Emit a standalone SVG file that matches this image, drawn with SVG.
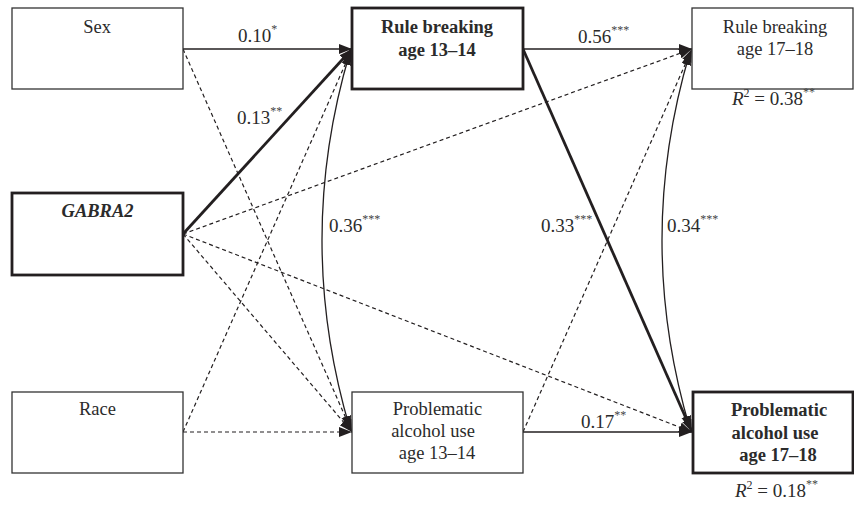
<svg xmlns="http://www.w3.org/2000/svg" width="854" height="505" viewBox="0 0 854 505">
<style>
  .box{fill:#fff;stroke:#333;stroke-width:1.3}
  .thick{fill:#fff;stroke:#231f20;stroke-width:2.8}
  text{font-family:'Liberation Serif','Times New Roman',serif}
  .t{font-size:18.5px;fill:#2b2b2b;text-anchor:middle}
  .b{font-weight:bold}
  .lbl{font-size:19px;fill:#2b2b2b}
  .st{font-size:12px;fill:#444}
  .ln{fill:none;stroke:#231f20;stroke-width:1.3}
  .tk{fill:none;stroke:#231f20;stroke-width:2.8}
  .ds{fill:none;stroke:#231f20;stroke-width:1.2;stroke-dasharray:4 3}
</style>
<defs>
  <marker id="ah" markerUnits="userSpaceOnUse" markerWidth="14" markerHeight="11" refX="13" refY="5" orient="auto-start-reverse">
    <path d="M0,0 L13,5 L0,10 z" fill="#231f20"/>
  </marker>
</defs>
<g id="connectors">
  <line class="ln" x1="183" y1="49" x2="352" y2="49" marker-end="url(#ah)"/>
  <line class="tk" x1="183" y1="234" x2="352" y2="49" marker-end="url(#ah)"/>
  <line class="ds" x1="183" y1="49" x2="352" y2="432" marker-end="url(#ah)"/>
  <line class="ds" x1="183" y1="432" x2="352" y2="49" marker-end="url(#ah)"/>
  <line class="ds" x1="183" y1="432" x2="352" y2="432" marker-end="url(#ah)"/>
  <line class="ds" x1="183" y1="234" x2="352" y2="432" marker-end="url(#ah)"/>
  <line class="ds" x1="183" y1="234" x2="692" y2="49" marker-end="url(#ah)"/>
  <line class="ds" x1="183" y1="234" x2="692" y2="432" marker-end="url(#ah)"/>
  <line class="ln" x1="523" y1="49" x2="692" y2="49" marker-end="url(#ah)"/>
  <line class="tk" x1="523" y1="49" x2="692" y2="432" marker-end="url(#ah)"/>
  <line class="ds" x1="523" y1="432" x2="692" y2="49" marker-end="url(#ah)"/>
  <line class="ln" x1="523" y1="432" x2="692" y2="432" marker-end="url(#ah)"/>
  <path class="ln" d="M350,52 Q294,240 350,429" marker-start="url(#ah)" marker-end="url(#ah)"/>
  <path class="ln" d="M690,52 Q634,240 690,429" marker-start="url(#ah)" marker-end="url(#ah)"/>
</g>
<g id="labels">
  <text class="lbl" x="238" y="42">0.10<tspan class="st" dy="-9">*</tspan></text>
  <text class="lbl" x="578" y="43">0.56<tspan class="st" dy="-9">***</tspan></text>
  <text class="lbl" x="237" y="124">0.13<tspan class="st" dy="-9">**</tspan></text>
  <text class="lbl" x="329" y="232">0.36<tspan class="st" dy="-9">***</tspan></text>
  <text class="lbl" x="541" y="232">0.33<tspan class="st" dy="-9">***</tspan></text>
  <text class="lbl" x="667" y="232">0.34<tspan class="st" dy="-9">***</tspan></text>
  <text class="lbl" x="581" y="428">0.17<tspan class="st" dy="-9">**</tspan></text>
</g>
<g id="sex">
  <rect class="box" x="12" y="8" width="171" height="81"/>
  <text class="t" x="97" y="33">Sex</text>
</g>
<g id="gabra2">
  <rect class="thick" x="12" y="193" width="171" height="82"/>
  <text class="t b" x="97.5" y="217" font-style="italic">GABRA2</text>
</g>
<g id="race">
  <rect class="box" x="12" y="392" width="171" height="81"/>
  <text class="t" x="97.5" y="415">Race</text>
</g>
<g id="rb1314">
  <rect class="thick" x="352" y="8" width="171" height="81"/>
  <text class="t b" x="437" y="33">Rule breaking</text>
  <text class="t b" x="437" y="56">age 13–14</text>
</g>
<g id="pa1314">
  <rect class="box" x="352" y="392" width="171" height="81"/>
  <text class="t" x="437.5" y="415">Problematic</text>
  <text class="t" x="433" y="437">alcohol use</text>
  <text class="t" x="437" y="459">age 13–14</text>
</g>
<g id="rb1718">
  <rect class="box" x="692" y="8" width="161" height="81"/>
  <text class="t" x="775" y="33">Rule breaking</text>
  <text class="t" x="775" y="55">age 17–18</text>
  <text class="lbl" x="732" y="105"><tspan font-style="italic">R</tspan><tspan font-size="12" dy="-8">2</tspan><tspan dy="8"> = 0.38</tspan><tspan class="st" dy="-9">**</tspan></text>
</g>
<g id="pa1718">
  <rect class="thick" x="693" y="392" width="160" height="81"/>
  <text class="t b" x="779" y="416">Problematic</text>
  <text class="t b" x="775" y="439">alcohol use</text>
  <text class="t b" x="778" y="461">age 17–18</text>
  <text class="lbl" x="735" y="497"><tspan font-style="italic">R</tspan><tspan font-size="12" dy="-8">2</tspan><tspan dy="8"> = 0.18</tspan><tspan class="st" dy="-9">**</tspan></text>
</g>
</svg>
